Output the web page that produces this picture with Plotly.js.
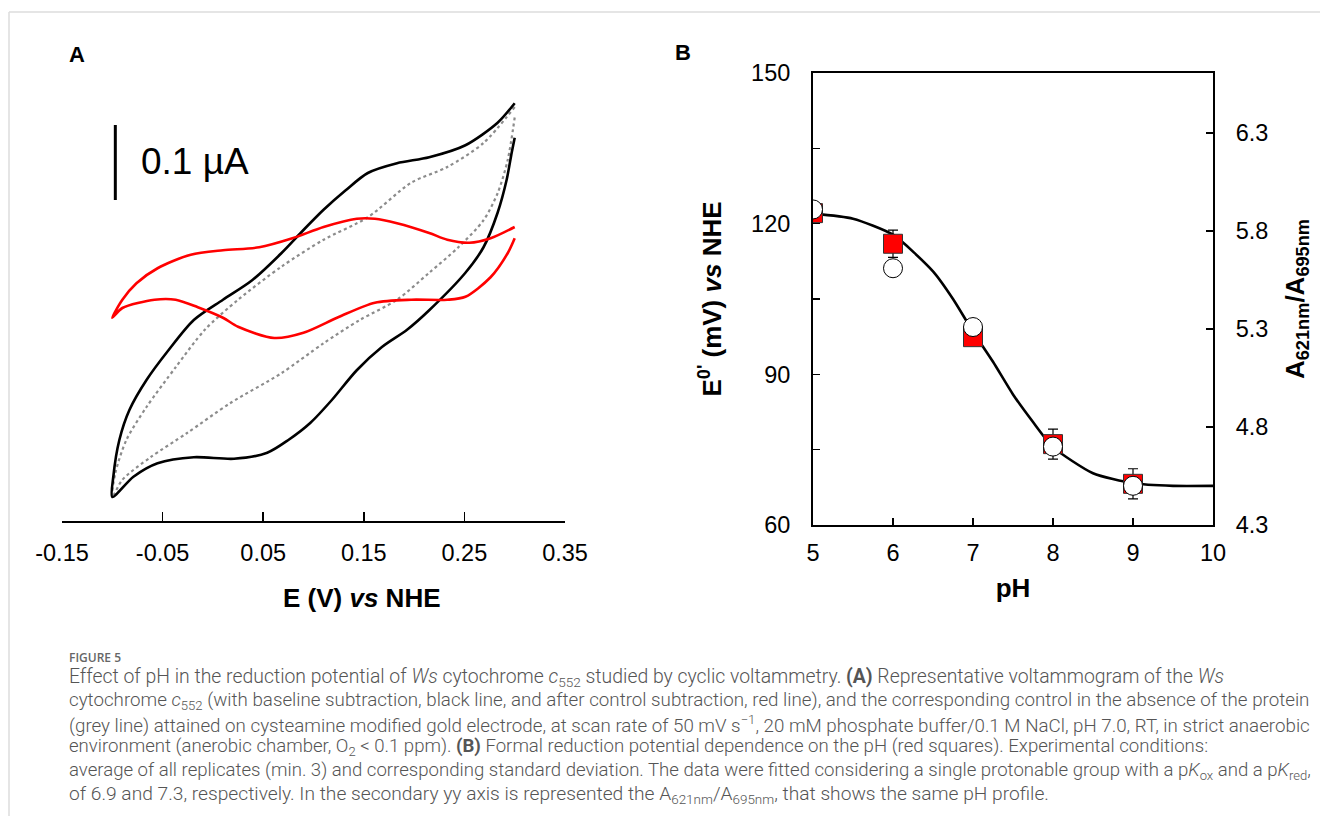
<!DOCTYPE html>
<html><head><meta charset="utf-8">
<script src="https://cdn.plot.ly/plotly-3.0.1.min.js"></script>
<style>html,body{margin:0;padding:0;background:#fff;} #chart{width:1320px;height:816px;}</style>
</head><body><div id="chart"></div>
<script>
// ---------- Panel A: cyclic voltammograms (E in V vs NHE, current in µA) ----------
const cvBlackE = [0.300, 0.283, 0.251, 0.215, 0.183, 0.154, 0.132, 0.110, 0.090, 0.068, 0.039, 0.010, -0.019, -0.044, -0.066, -0.083, -0.093, -0.099, -0.100,
                  -0.079, -0.055, -0.019, 0.021, 0.054, 0.075, 0.097, 0.118, 0.143, 0.168, 0.193, 0.215, 0.251, 0.269, 0.283, 0.292, 0.297, 0.300];
const cvBlackI = [0.289, 0.263, 0.233, 0.217, 0.209, 0.196, 0.173, 0.147, 0.120, 0.089, 0.053, 0.027, 0.000, -0.040, -0.080, -0.120, -0.160, -0.209, -0.236,
                  -0.209, -0.191, -0.183, -0.185, -0.177, -0.160, -0.137, -0.107, -0.067, -0.036, -0.013, 0.013, 0.063, 0.097, 0.143, 0.187, 0.223, 0.243];

const cvCtrlE = [0.300, 0.269, 0.233, 0.197, 0.154, 0.110, 0.068, 0.025, -0.008, -0.037, -0.066, -0.086, -0.097, -0.100,
                 -0.090, -0.062, -0.026, 0.017, 0.068, 0.110, 0.146, 0.183, 0.215, 0.244, 0.269, 0.283, 0.293, 0.300];
const cvCtrlI = [0.284, 0.236, 0.204, 0.183, 0.137, 0.107, 0.071, 0.027, -0.013, -0.063, -0.116, -0.160, -0.204, -0.236,
                 -0.213, -0.183, -0.151, -0.111, -0.071, -0.031, 0.000, 0.027, 0.063, 0.097, 0.133, 0.169, 0.213, 0.270];

const cvRedE = [0.300, 0.276, 0.255, 0.233, 0.215, 0.183, 0.161, 0.143, 0.110, 0.079, 0.046, 0.010, -0.022, -0.055, -0.076, -0.090, -0.100,
                -0.090, -0.058, -0.037, -0.015, 0.010, 0.025, 0.061, 0.090, 0.125, 0.161, 0.197, 0.233, 0.251, 0.276, 0.293, 0.300];
const cvRedI = [0.124, 0.109, 0.103, 0.107, 0.116, 0.129, 0.135, 0.135, 0.124, 0.109, 0.097, 0.093, 0.087, 0.069, 0.049, 0.027, 0.003,
                0.016, 0.027, 0.027, 0.017, 0.003, -0.009, -0.024, -0.017, 0.004, 0.023, 0.027, 0.027, 0.031, 0.057, 0.089, 0.109];

// scale bar: 0.1 µA
const scaleBarE = [-0.097, -0.097];
const scaleBarI = [0.16, 0.26];
const scaleBarLabel = "0.1 µA";

const aTickVals = [-0.15, -0.05, 0.05, 0.15, 0.25, 0.35];
const aTickText = ["-0.15", "-0.05", "0.05", "0.15", "0.25", "0.35"];

// ---------- Panel B: pH dependence ----------
const phVals   = [5, 6, 7, 8, 9];
const e0Vals   = [122.1, 116.0, 97.4, 76.1, 68.2];   // mV vs NHE (red squares)
const e0Err    = [1.0, 2.7, 1.0, 3.0, 3.0];
const ratioVals = [5.91, 5.61, 5.31, 4.70, 4.50];    // A621nm/A695nm (open circles)

const fitPH = [5.0, 5.5, 6.0, 6.5, 6.75, 7.0, 7.25, 7.5, 7.75, 8.0, 8.5, 9.0, 9.5, 10.0];
const fitE  = [122.0, 121.0, 117.8, 110.5, 105.0, 98.5, 92.5, 86.0, 80.5, 75.5, 70.3, 68.3, 67.8, 67.8];

const bXTicks = [5, 6, 7, 8, 9, 10];
const bLeftTickVals = [60, 90, 120, 150];
const bRightTickVals = [4.3, 4.8, 5.3, 5.8, 6.3];
const bRightTickText = ["4.3", "4.8", "5.3", "5.8", "6.3"];

// ---------- Caption ----------
const captionHead = "FIGURE 5";
const captionLines = [
  "Effect of pH in the reduction potential of <i>Ws</i> cytochrome <i>c</i><sub>552</sub> studied by cyclic voltammetry. <b>(A)</b> Representative voltammogram of the <i>Ws</i>",
  "cytochrome <i>c</i><sub>552</sub> (with baseline subtraction, black line, and after control subtraction, red line), and the corresponding control in the absence of the protein",
  "(grey line) attained on cysteamine modified gold electrode, at scan rate of 50 mV s<sup>−1</sup>, 20 mM phosphate buffer/0.1 M NaCl, pH 7.0, RT, in strict anaerobic",
  "environment (anerobic chamber, O<sub>2</sub> &lt; 0.1 ppm). <b>(B)</b> Formal reduction potential dependence on the pH (red squares). Experimental conditions:",
  "average of all replicates (min. 3) and corresponding standard deviation. The data were fitted considering a single protonable group with a p<i>K</i><sub>ox</sub> and a p<i>K</i><sub>red</sub>,",
  "of 6.9 and 7.3, respectively. In the secondary yy axis is represented the A<sub>621nm</sub>/A<sub>695nm</sub>, that shows the same pH profile."
];
const captionSizes = [19.4, 18.75, 18.75, 18.6, 18.6, 19.2];

// ---------- layout helpers (pixel -> paper) ----------
const W = 1320, H = 816;
const px = x => x / W;
const py = y => 1 - y / H;
const FONT = "Liberation Sans, Arial, sans-serif";
const CAPFONT = "Roboto, Open Sans, sans-serif";
const TICK = 23.5;

const traces = [
  {x: cvCtrlE, y: cvCtrlI, xaxis: 'x', yaxis: 'y', mode: 'lines', name: 'control',
   line: {color: '#8c8c8c', width: 2.2, dash: 'dot', shape: 'spline', smoothing: 0.8}},
  {x: cvBlackE, y: cvBlackI, xaxis: 'x', yaxis: 'y', mode: 'lines', name: 'baseline subtracted',
   line: {color: '#000000', width: 2.6, shape: 'spline', smoothing: 0.8}},
  {x: cvRedE, y: cvRedI, xaxis: 'x', yaxis: 'y', mode: 'lines', name: 'control subtracted',
   line: {color: '#ff0000', width: 2.6, shape: 'spline', smoothing: 0.8}},
  {x: scaleBarE, y: scaleBarI, xaxis: 'x', yaxis: 'y', mode: 'lines', name: 'scale',
   line: {color: '#000000', width: 3}},
  {x: fitPH, y: fitE, xaxis: 'x2', yaxis: 'y2', mode: 'lines', name: 'fit',
   line: {color: '#000000', width: 2.6, shape: 'spline', smoothing: 0.6}},
  {x: phVals, y: e0Vals, xaxis: 'x2', yaxis: 'y2', mode: 'markers', name: "E0'",
   error_y: {type: 'data', array: e0Err, visible: true, color: '#000000', thickness: 1.2, width: 5},
   marker: {symbol: 'square', size: 19, color: '#ff0000', line: {color: '#333333', width: 1}}},
  {x: phVals, y: ratioVals, xaxis: 'x2', yaxis: 'y3', mode: 'markers', name: 'A621/A695',
   marker: {symbol: 'circle', size: 19, color: '#ffffff', line: {color: '#000000', width: 1}}}
];

const annotations = [
  {text: "A", x: px(77), y: py(55), xref: 'paper', yref: 'paper', xanchor: 'center', yanchor: 'middle', showarrow: false,
   font: {family: FONT, size: 22, color: '#000', weight: 'bold'}},
  {text: "B", x: px(683), y: py(53), xref: 'paper', yref: 'paper', xanchor: 'center', yanchor: 'middle', showarrow: false,
   font: {family: FONT, size: 22, color: '#000', weight: 'bold'}},
  {text: scaleBarLabel, x: -0.073, y: 0.2107, xref: 'x', yref: 'y', xanchor: 'left', yanchor: 'middle', showarrow: false,
   font: {family: FONT, size: 37, color: '#000'}},
  {text: "E (V) <i>vs</i> NHE", x: px(362), y: py(598), xref: 'paper', yref: 'paper', xanchor: 'center', yanchor: 'middle', showarrow: false,
   font: {family: FONT, size: 26, color: '#000', weight: 'bold'}},
  {text: captionHead, x: px(67), y: py(657), xref: 'paper', yref: 'paper', xanchor: 'left', yanchor: 'middle', showarrow: false,
   font: {family: "Open Sans, sans-serif", size: 12, color: '#666666', weight: 600}}
];
captionLines.forEach((t, i) => {
  annotations.push({text: t, x: px(67), y: py(677.5 + i * 23.3), xref: 'paper', yref: 'paper', xanchor: 'left', yanchor: 'middle',
    showarrow: false, font: {family: CAPFONT, size: captionSizes[i], color: '#555555', weight: 300}});
});

const layout = {
  width: W, height: H,
  margin: {l: 0, r: 0, t: 0, b: 0},
  paper_bgcolor: '#ffffff', plot_bgcolor: 'rgba(0,0,0,0)',
  showlegend: false,
  font: {family: FONT, color: '#000'},
  xaxis: {domain: [px(62), px(565)], range: [-0.15, 0.35], anchor: 'y',
    showline: true, linecolor: '#000', linewidth: 1.6, showgrid: false, zeroline: false,
    ticks: 'inside', ticklen: 9, tickwidth: 1.6, tickcolor: '#000',
    tickvals: aTickVals, ticktext: aTickText, ticklabelstandoff: 10,
    tickfont: {family: FONT, size: TICK, color: '#000'}},
  yaxis: {domain: [py(521), py(73)], range: [(320 - 521) / 750, (320 - 73) / 750], anchor: 'x', visible: false},
  xaxis2: {domain: [px(813), px(1213)], range: [5, 10], anchor: 'y2',
    showline: true, mirror: true, linecolor: '#000', linewidth: 2, showgrid: false, zeroline: false,
    ticks: 'inside', ticklen: 7, tickwidth: 1.6, tickcolor: '#000',
    tickvals: bXTicks, ticklabelstandoff: 6,
    tickfont: {family: FONT, size: TICK, color: '#000'},
    title: {text: "pH", font: {family: FONT, size: 26, color: '#000', weight: 'bold'}, standoff: 14}},
  yaxis2: {domain: [py(525), py(73)], range: [60, 150], anchor: 'x2',
    showline: true, linecolor: '#000', linewidth: 2, showgrid: false, zeroline: false,
    ticks: 'inside', ticklen: 7, tickwidth: 1.6, tickcolor: '#000',
    tickvals: bLeftTickVals, ticklabelstandoff: 16,
    minor: {dtick: 15, tick0: 60, ticks: 'inside', ticklen: 7, tickwidth: 1.6, tickcolor: '#000', showgrid: false},
    tickfont: {family: FONT, size: TICK, color: '#000'},
    title: {text: "E<sup>0'</sup> (mV) <i>vs</i> NHE", font: {family: FONT, size: 26, color: '#000', weight: 'bold'}, standoff: 22}},
  yaxis3: {domain: [py(525), py(73)], range: [4.3, 4.3 + 452 / 196], anchor: 'x2', overlaying: 'y2', side: 'right',
    showline: true, linecolor: '#000', linewidth: 2, showgrid: false, zeroline: false,
    ticks: 'inside', ticklen: 7, tickwidth: 1.6, tickcolor: '#000',
    tickvals: bRightTickVals, ticktext: bRightTickText, ticklabelstandoff: 16,
    tickfont: {family: FONT, size: TICK, color: '#000'},
    title: {text: "A<sub>621nm</sub>/A<sub>695nm</sub>", font: {family: FONT, size: 26, color: '#000', weight: 'bold'}, standoff: 18}},
  annotations: annotations,
  shapes: [
    {type: 'line', xref: 'paper', yref: 'paper', x0: px(9), x1: 1, y0: py(12), y1: py(12), line: {color: '#dcdcdc', width: 1.5}},
    {type: 'line', xref: 'paper', yref: 'paper', x0: px(9), x1: px(9), y0: py(12), y1: 0, line: {color: '#dcdcdc', width: 1.5}}
  ]
};

Plotly.newPlot('chart', traces, layout, {displayModeBar: false, staticPlot: true});
</script>
</body></html>
